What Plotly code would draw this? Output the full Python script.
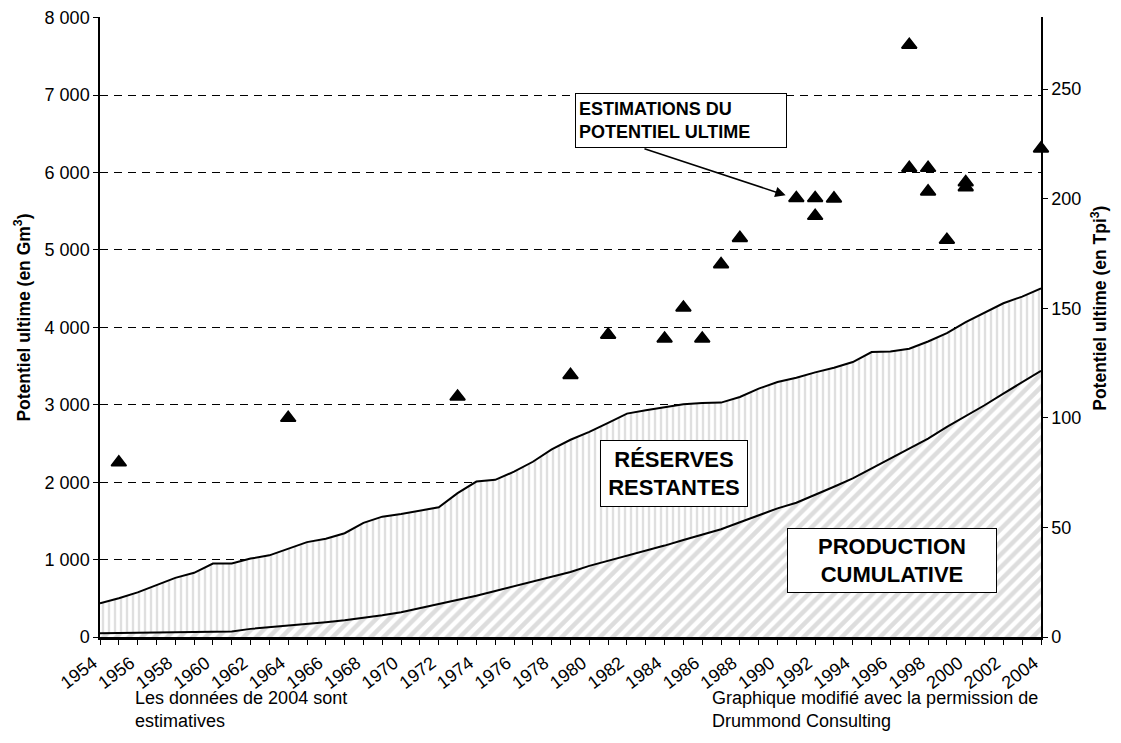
import plotly.graph_objects as go

GM3_PER_TPI3 = 28.3168

years = list(range(1954, 2005))

# Cumulative production (Gm3)
production = [50, 52, 54, 56, 58, 62, 66, 72, 105, 125, 145, 165, 190, 215, 245, 280,
              320, 372, 423, 478, 534, 594, 654, 713, 773, 840, 919, 983, 1048, 1112,
              1181, 1254, 1318, 1392, 1482, 1576, 1662, 1735, 1834, 1941, 2049, 2178,
              2307, 2436, 2564, 2714, 2852, 2994, 3144, 3294, 3440]

# Production + remaining reserves (Gm3)
total = [436, 500, 577, 670, 764, 829, 949, 949, 1013, 1055, 1141, 1226, 1269, 1341,
         1474, 1555, 1590, 1632, 1675, 1859, 2008, 2030, 2136, 2264, 2423, 2548, 2650,
         2766, 2886, 2929, 2972, 3006, 3024, 3028, 3101, 3209, 3294, 3350, 3419, 3479,
         3552, 3681, 3690, 3724, 3818, 3925, 4067, 4188, 4312, 4398, 4505]

# Ultimate potential estimates (Gm3)
est_years = [1955, 1964, 1973, 1979, 1981, 1984, 1985, 1986, 1987, 1988, 1991, 1992, 1992,
             1993, 1997, 1997, 1998, 1998, 1999, 2000, 2000, 2004]
est_values = [2255, 2830, 3105, 3385, 3905, 3855, 4255, 3855, 4815, 5155, 5670, 5670, 5440,
              5665, 7650, 6060, 6060, 5755, 5130, 5875, 5810, 6310]

left_ticks = [0, 1000, 2000, 3000, 4000, 5000, 6000, 7000, 8000]
right_ticks = [0, 50, 100, 150, 200, 250]
Y_MAX = 8010

FONT = "Liberation Sans, Arial, sans-serif"

fig = go.Figure()

fig.add_trace(go.Scatter(
    x=years, y=production, mode="lines", fill="tozeroy",
    line=dict(color="black", width=2),
    fillpattern=dict(shape="/", bgcolor="white", fgcolor="#bcbcbc", size=9, solidity=0.5),
    fillcolor="white", hoverinfo="skip", showlegend=False))

fig.add_trace(go.Scatter(
    x=years, y=total, mode="lines", fill="tonexty",
    line=dict(color="black", width=2),
    fillpattern=dict(shape="|", bgcolor="white", fgcolor="#c0c0c0", size=6, solidity=0.4),
    fillcolor="white", hoverinfo="skip", showlegend=False))

fig.add_trace(go.Scatter(
    x=est_years, y=est_values, mode="markers",
    marker=dict(symbol="triangle-up", size=13, color="black", line=dict(color="black", width=1.8)),
    showlegend=False, cliponaxis=False))

# invisible trace to anchor the secondary (Tpi3) axis
fig.add_trace(go.Scatter(
    x=years, y=[v / GM3_PER_TPI3 for v in total], yaxis="y2", mode="lines",
    line=dict(width=0, color="rgba(0,0,0,0)"), hoverinfo="skip", showlegend=False))

fig.update_layout(
    width=1113, height=735,
    margin=dict(l=92, r=80, t=9, b=106, autoexpand=False),
    paper_bgcolor="white", plot_bgcolor="white",
    font=dict(family=FONT, size=18, color="black"),
    separators=", ",
    xaxis=dict(
        range=[1954, 2004], tick0=1954, dtick=2, tickangle=-37,
        ticks="outside", ticklen=5, tickcolor="black", automargin=False,
        ticklabelshift=-7, ticklabelstandoff=1,
        showline=True, linecolor="black", linewidth=2.5,
        showgrid=False, zeroline=False,
        minor=dict(dtick=1, ticks="outside", ticklen=5, tickcolor="black", showgrid=False),
        tickfont=dict(size=18),
    ),
    yaxis=dict(
        range=[0, Y_MAX], tickvals=left_ticks, tickformat=",d", automargin=False,
        ticks="outside", ticklen=5, tickcolor="black", ticklabeloverflow="allow",
        showline=True, linecolor="black", linewidth=1.5,
        showgrid=True, gridcolor="black", gridwidth=1, griddash="8px,6px",
        zeroline=False, tickfont=dict(size=18),
    ),
    yaxis2=dict(
        overlaying="y", side="right", automargin=False,
        range=[0, Y_MAX / GM3_PER_TPI3], tickvals=right_ticks,
        ticks="outside", ticklen=5, tickcolor="black",
        showline=True, linecolor="black", linewidth=1.5,
        showgrid=False, zeroline=False, tickfont=dict(size=18),
    ),
)

annotations = [
    dict(text="<b>Potentiel ultime (en Gm<sup>3</sup>)</b>", xref="paper", yref="paper",
         x=-0.083, y=0.515, textangle=-90, showarrow=False, font=dict(size=17.5),
         xanchor="center", yanchor="middle"),
    dict(text="<b>Potentiel ultime (en Tpi<sup>3</sup>)</b>", xref="paper", yref="paper",
         x=1.062, y=0.53, textangle=-90, showarrow=False, font=dict(size=17.5),
         xanchor="center", yanchor="middle"),
    dict(text="Les données de 2004 sont<br>estimatives", xref="paper", yref="paper",
         x=0.035, y=-0.079, xanchor="left", yanchor="top", align="left", showarrow=False,
         font=dict(size=18)),
    dict(text="Graphique modifié avec la permission de<br>Drummond Consulting", xref="paper",
         yref="paper", x=0.648, y=-0.079, xanchor="left", yanchor="top", align="left",
         showarrow=False, font=dict(size=18)),
    dict(text="<b>RÉSERVES<br>RESTANTES</b>", xref="x", yref="y", x=1984.5, y=2113,
         showarrow=False, font=dict(size=22), bgcolor="white", bordercolor="black",
         borderwidth=1, width=140, height=59, borderpad=3),
    dict(text="<b>PRODUCTION<br>CUMULATIVE</b>", xref="x", yref="y", x=1996.08, y=991,
         showarrow=False, font=dict(size=22), bgcolor="white", bordercolor="black",
         borderwidth=1, width=202, height=57, borderpad=3),
    dict(text="<b>ESTIMATIONS DU<br>POTENTIEL ULTIME</b>", xref="x", yref="y", x=1984.87, y=6668,
         showarrow=False, font=dict(size=18), bgcolor="white", bordercolor="black",
         borderwidth=1, width=204, height=47, borderpad=3, align="left"),
    dict(text="", xref="x", yref="y", x=1990.43, y=5707, axref="x", ayref="y",
         ax=1982.85, ay=6313, showarrow=True, arrowhead=2, arrowsize=1.3, arrowwidth=1.6,
         arrowcolor="black", standoff=0, startstandoff=0),
]
fig.update_layout(annotations=annotations)

fig.write_html("out.html")
